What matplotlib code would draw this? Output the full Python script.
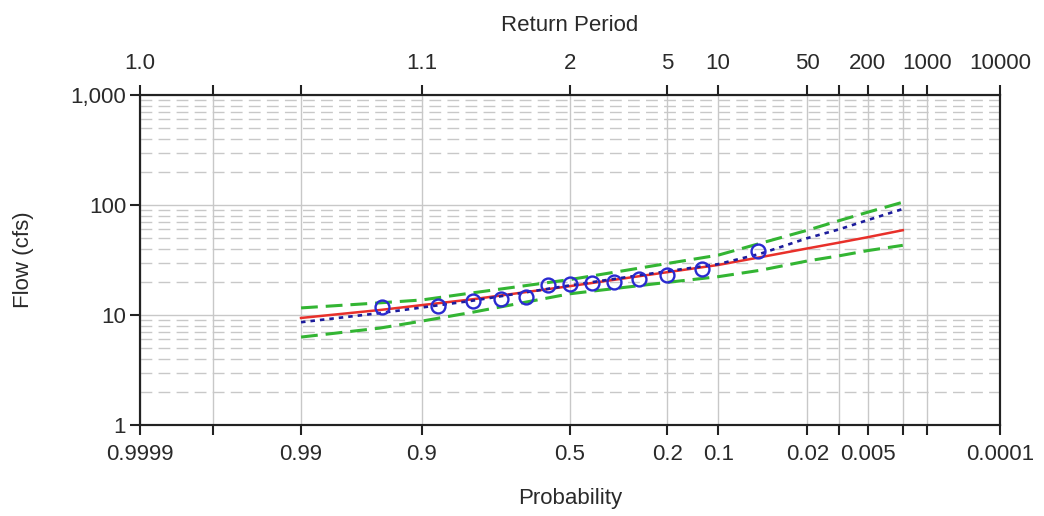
import numpy as np
import matplotlib
matplotlib.use("Agg")
import matplotlib.pyplot as plt
from matplotlib.ticker import FixedLocator, FixedFormatter, NullLocator, LogLocator, NullFormatter
from statistics import NormalDist

# ---------------- data ----------------
prob_ticks = [0.9999, 0.999, 0.99, 0.9, 0.5, 0.2, 0.1, 0.02, 0.01, 0.005, 0.002, 0.001, 0.0001]
prob_labels = ['0.9999', '', '0.99', '0.9', '0.5', '0.2', '0.1', '0.02', '', '0.005', '', '', '0.0001']
return_labels = ['1.0', '', '', '1.1', '2', '5', '10', '50', '', '200', '', '1000', '10000']
flow_ticks = [1, 10, 100, 1000]
flow_labels = ['1', '10', '100', '1,000']

curve_prob = [0.99, 0.95, 0.9, 0.8, 0.5, 0.2, 0.1, 0.05, 0.02, 0.01, 0.005, 0.002]
fitted_flow = [9.4, 11.1, 12.3, 13.9, 18.3, 24.5, 28.5, 33.5, 40.3, 45.5, 51.0, 59.0]
expected_flow = [8.6, 10.4, 11.7, 13.5, 18.6, 25.0, 29.0, 36.0, 50.0, 60.0, 73.0, 92.0]
upper_flow = [11.6, 12.9, 13.7, 15.9, 21.0, 29.4, 35.0, 44.8, 59.0, 72.0, 86.0, 106.0]
lower_flow = [6.3, 7.6, 8.8, 10.6, 15.6, 19.8, 22.3, 25.5, 31.0, 34.5, 38.5, 43.0]

obs_prob = [0.052, 0.127, 0.201, 0.276, 0.351, 0.425, 0.5, 0.575, 0.649, 0.724, 0.799, 0.873, 0.948]
obs_flow = [38.0, 26.2, 23.1, 21.2, 19.8, 19.5, 19.2, 18.7, 14.6, 14.0, 13.4, 12.1, 11.8]

# ---------------- probability scale ----------------
_nd = NormalDist()


def _ppf1(p):
    try:
        return _nd.inv_cdf(p)
    except Exception:
        return np.nan


_ppf = np.vectorize(_ppf1, otypes=[float])
_cdf = np.vectorize(_nd.cdf, otypes=[float])


def fwd(p):
    p = np.clip(np.asarray(p, dtype=float), 1e-12, 1 - 1e-12)
    return _ppf(p)


def inv(z):
    return _cdf(np.asarray(z, dtype=float))


plt.rcParams['font.family'] = ['Liberation Sans', 'DejaVu Sans']
FS = 16
TXT = '#2a2a2a'
GRID = '#c8c8c8'

fig = plt.figure(figsize=(10.44, 5.16), dpi=100)
ax = fig.add_axes([140 / 1044, 1 - 425 / 516, 860 / 1044, 330 / 516])

ax.set_xscale('function', functions=(fwd, inv))
ax.set_yscale('log')
ax.set_xlim(0.9999, 0.0001)
ax.set_ylim(1, 1000)

ax.xaxis.set_major_locator(FixedLocator(prob_ticks))
ax.xaxis.set_major_formatter(FixedFormatter(prob_labels))
ax.xaxis.set_minor_locator(NullLocator())
ax.yaxis.set_major_locator(FixedLocator(flow_ticks))
ax.yaxis.set_major_formatter(FixedFormatter(flow_labels))
ax.yaxis.set_minor_locator(LogLocator(base=10, subs=np.arange(2, 10)))
ax.yaxis.set_minor_formatter(NullFormatter())

ax.grid(which='major', axis='x', color=GRID, lw=1.0, ls='-')
ax.grid(which='major', axis='y', color=GRID, lw=1.0, ls='-')
ax.grid(which='minor', axis='y', color=GRID, lw=1.0, ls=(0, (8.5, 4.5)))
ax.set_axisbelow(True)

ax.tick_params(axis='x', which='major', direction='out', length=7, width=1.5,
               color='#222222', labelsize=FS, labelcolor=TXT, pad=7)
ax.tick_params(axis='y', which='major', direction='out', length=7, width=1.5,
               color='#222222', labelsize=FS, labelcolor=TXT, pad=3)
ax.tick_params(axis='y', which='minor', length=0)
for s in ax.spines.values():
    s.set_color('#222222')
    s.set_linewidth(1.5)

# curves
ax.plot(curve_prob, upper_flow, color='#33b533', lw=2.2, ls=(0, (5.5, 2.6)), zorder=3)
ax.plot(curve_prob, lower_flow, color='#33b533', lw=2.2, ls=(0, (5.5, 2.6)), zorder=3)
ax.plot(curve_prob, fitted_flow, color='#e8302a', lw=1.8, ls='-', zorder=4)
ax.plot(curve_prob, expected_flow, color='#1c1c9c', lw=1.9, ls=(0, (1.7, 1.9)), zorder=5)
ax.plot(obs_prob, obs_flow, ls='none', marker='o', ms=10, mfc='none', mec='#2a2ad0',
        mew=1.7, zorder=6)

ax.set_xlabel('Probability', fontsize=FS, color=TXT, labelpad=16)
ax.set_ylabel('Flow (cfs)', fontsize=FS, color=TXT, labelpad=26)

# top axis: return period
ax2 = ax.twiny()
ax2.set_xscale('function', functions=(fwd, inv))
ax2.set_xlim(ax.get_xlim())
ax2.xaxis.set_major_locator(FixedLocator(prob_ticks))
ax2.xaxis.set_major_formatter(FixedFormatter(return_labels))
ax2.xaxis.set_minor_locator(NullLocator())
ax2.tick_params(axis='x', which='major', direction='out', length=7, width=1.5,
                color='#222222', labelsize=FS, labelcolor=TXT, pad=8)
for s in ax2.spines.values():
    s.set_color('#222222')
    s.set_linewidth(1.5)
ax2.set_xlabel('Return Period', fontsize=FS, color=TXT, labelpad=16)

fig.savefig('out.png', dpi=100, facecolor='white')
